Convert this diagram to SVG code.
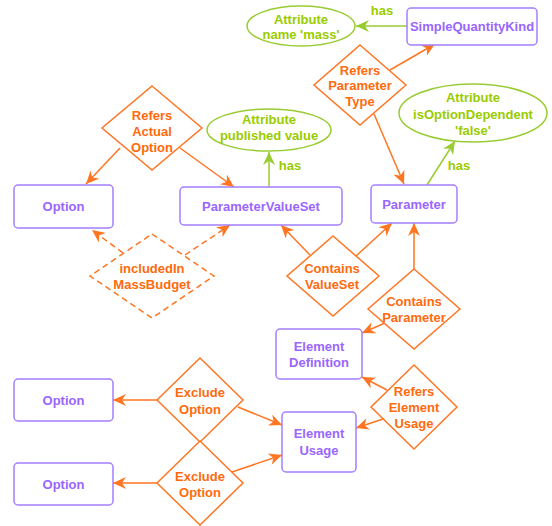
<svg xmlns="http://www.w3.org/2000/svg" width="552" height="526" viewBox="0 0 552 526">
<style>
text{font-family:"Liberation Sans",Arial,sans-serif;font-weight:bold;font-size:13px;text-anchor:middle}
.ent rect{fill:#fff;stroke:#a47fff;stroke-width:1.5}
.ent text{fill:#9966ff}
.rel polygon{fill:#fff;stroke:#ff7522;stroke-width:1.5}
.rel text{fill:#ff6a0d}
.attr ellipse{fill:#fff;stroke:#99cc33;stroke-width:1.5}
.attr text,.lbl{fill:#99cc00}
.o{stroke:#ff7522;stroke-width:1.5;fill:none;marker-end:url(#ao)}
.od{stroke:#ff7522;stroke-width:1.5;fill:none;stroke-dasharray:6,4;marker-end:url(#ao)}
.g{stroke:#99cc33;stroke-width:1.5;fill:none;marker-end:url(#ag)}
</style>
<defs>
<marker id="ao" markerUnits="userSpaceOnUse" markerWidth="14" markerHeight="12" refX="13" refY="6" orient="auto"><path d="M0,0 L13,6 L0,12 L4,6 Z" fill="#ff7522"/></marker>
<marker id="ag" markerUnits="userSpaceOnUse" markerWidth="14" markerHeight="12" refX="13" refY="6" orient="auto"><path d="M0,0 L13,6 L0,12 L4,6 Z" fill="#99cc33"/></marker>
</defs>
<rect width="552" height="526" fill="#fff"/>
<g id="connectors">
<line class="g" x1="407" y1="26" x2="356" y2="26"/>
<line class="o" x1="390" y1="70" x2="435" y2="44"/>
<line class="o" x1="374" y1="114" x2="404" y2="184"/>
<line class="g" x1="427" y1="185" x2="455" y2="141"/>
<line class="g" x1="269" y1="187" x2="269" y2="152"/>
<line class="o" x1="120" y1="148" x2="86" y2="184"/>
<line class="o" x1="180" y1="148" x2="234" y2="187"/>
<line class="od" x1="123" y1="253" x2="92" y2="230"/>
<line class="od" x1="185" y1="255" x2="230" y2="225"/>
<line class="o" x1="310" y1="255" x2="281" y2="225"/>
<line class="o" x1="356" y1="256" x2="392" y2="223"/>
<line class="o" x1="414" y1="269" x2="414" y2="223"/>
<line class="o" x1="385" y1="323" x2="362" y2="333"/>
<line class="o" x1="387" y1="390" x2="362" y2="377"/>
<line class="o" x1="383" y1="419" x2="356" y2="428"/>
<line class="o" x1="157" y1="400" x2="113" y2="400"/>
<line class="o" x1="238" y1="407" x2="282" y2="425"/>
<line class="o" x1="157" y1="483" x2="113" y2="483"/>
<line class="o" x1="232" y1="472" x2="282" y2="455"/>
<text class="lbl" x="382" y="15">has</text>
<text class="lbl" x="290" y="170">has</text>
<text class="lbl" x="459" y="170">has</text>
</g>
<g id="SimpleQuantityKind" class="ent"><rect x="407" y="8" width="130" height="37" rx="4"/><text x="472" y="31">SimpleQuantityKind</text></g>
<g id="Option1" class="ent"><rect x="14" y="185" width="99" height="43" rx="4"/><text x="63.5" y="211">Option</text></g>
<g id="ParameterValueSet" class="ent"><rect x="180" y="187" width="162" height="38" rx="4"/><text x="261" y="211">ParameterValueSet</text></g>
<g id="Parameter" class="ent"><rect x="371" y="185" width="86" height="38" rx="4"/><text x="414" y="209">Parameter</text></g>
<g id="ElementDefinition" class="ent"><rect x="276" y="329" width="86" height="50" rx="4"/><text x="319" y="350.5">Element</text><text x="319" y="367">Definition</text></g>
<g id="ElementUsage" class="ent"><rect x="282" y="412" width="74" height="60" rx="4"/><text x="319" y="438">Element</text><text x="319" y="454.5">Usage</text></g>
<g id="Option2" class="ent"><rect x="14" y="379" width="99" height="42" rx="4"/><text x="63.5" y="405">Option</text></g>
<g id="Option3" class="ent"><rect x="14" y="463" width="99" height="42" rx="4"/><text x="63.5" y="488.5">Option</text></g>
<g id="AttrMass" class="attr"><ellipse cx="301" cy="26" rx="54" ry="20"/><text x="301" y="23.5">Attribute</text><text x="301" y="39">name 'mass'</text></g>
<g id="AttrPublished" class="attr"><ellipse cx="269" cy="130" rx="62" ry="21"/><text x="269" y="123.5">Attribute</text><text x="269" y="139.5">published value</text></g>
<g id="AttrOptionDependent" class="attr"><ellipse cx="473" cy="113" rx="74" ry="29"/><text x="473" y="102">Attribute</text><text x="473" y="118.5">isOptionDependent</text><text x="473" y="134.5">'false'</text></g>
<g id="RefersParameterType" class="rel"><polygon points="360,45 406,85 360,125 314,85"/><text x="360" y="74.5">Refers</text><text x="360" y="90">Parameter</text><text x="360" y="105.5">Type</text></g>
<g id="RefersActualOption" class="rel"><polygon points="152,86 202,128 152,170 102,128"/><text x="152" y="119.5">Refers</text><text x="152" y="136">Actual</text><text x="152" y="152">Option</text></g>
<g id="IncludedInMassBudget" class="rel"><polygon points="152,234 214,276 152,318 90,276" stroke-dasharray="6,4"/><text x="152" y="272.5">includedIn</text><text x="152" y="288.5">MassBudget</text></g>
<g id="ContainsValueSet" class="rel"><polygon points="333,236 379,276 333,316 287,276"/><text x="332" y="272.5">Contains</text><text x="332" y="288.5">ValueSet</text></g>
<g id="ContainsParameter" class="rel"><polygon points="414,269 460,309 414,349 368,309"/><text x="414" y="306">Contains</text><text x="414" y="321.5">Parameter</text></g>
<g id="RefersElementUsage" class="rel"><polygon points="414,365 457,407 414,449 371,407"/><text x="414" y="395.5">Refers</text><text x="414" y="412">Element</text><text x="414" y="427.5">Usage</text></g>
<g id="ExcludeOption1" class="rel"><polygon points="200,358 243,400 200,442 157,400"/><text x="200" y="397">Exclude</text><text x="200" y="413.5">Option</text></g>
<g id="ExcludeOption2" class="rel"><polygon points="200,441 243,483 200,525 157,483"/><text x="200" y="480.5">Exclude</text><text x="200" y="496.5">Option</text></g>
</svg>
